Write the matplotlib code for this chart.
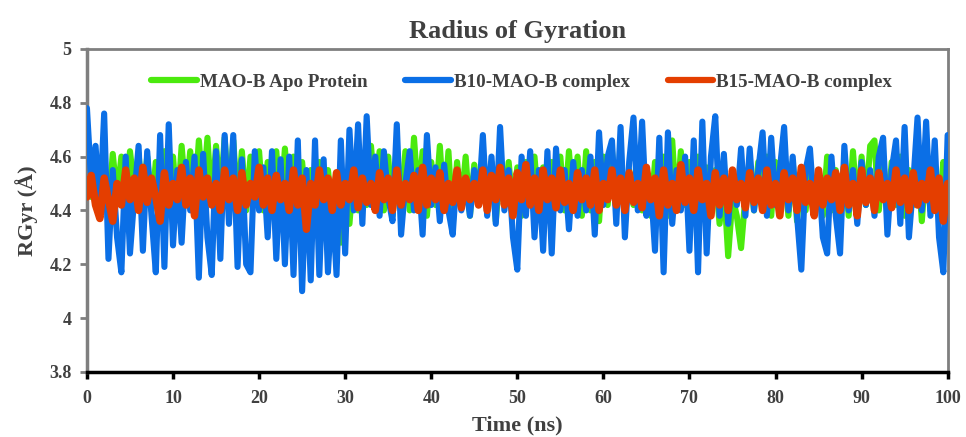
import numpy as np
import matplotlib
matplotlib.use("Agg")
import matplotlib.pyplot as plt

labels = ["MAO-B Apo Protein", "B10-MAO-B complex", "B15-MAO-B complex"]
x_ticks = [0, 10, 20, 30, 40, 50, 60, 70, 80, 90, 100]
y_ticks = [3.8, 4.0, 4.2, 4.4, 4.6, 4.8, 5.0]
y_tick_labels = ["3.8", "4", "4.2", "4.4", "4.6", "4.8", "5"]

apo = [4.55, 4.45, 4.60, 4.42, 4.58, 4.40, 4.61, 4.45, 4.60, 4.42, 4.62, 4.48, 4.61, 4.43, 4.60, 4.40,
       4.58, 4.45, 4.62, 4.42, 4.60, 4.40, 4.64, 4.45, 4.62, 4.42, 4.66, 4.46, 4.67, 4.42, 4.64, 4.45,
       4.67, 4.43, 4.66, 4.42, 4.62, 4.40, 4.60, 4.45, 4.62, 4.40, 4.58, 4.45, 4.62, 4.40, 4.63, 4.43,
       4.60, 4.42, 4.58, 4.40, 4.55, 4.45, 4.58, 4.38, 4.55, 4.40, 4.52, 4.28, 4.48, 4.35, 4.55, 4.40,
       4.60, 4.42, 4.64, 4.45, 4.62, 4.40, 4.60, 4.38, 4.58, 4.42, 4.62, 4.40, 4.67, 4.44, 4.62, 4.38,
       4.58, 4.42, 4.64, 4.40, 4.62, 4.35, 4.58, 4.42, 4.60, 4.38, 4.57, 4.42, 4.60, 4.40, 4.58, 4.36,
       4.55, 4.42, 4.58, 4.40, 4.56, 4.38, 4.58, 4.42, 4.60, 4.40, 4.56, 4.38, 4.58, 4.42, 4.60, 4.40,
       4.62, 4.42, 4.60, 4.38, 4.62, 4.40, 4.58, 4.36, 4.60, 4.42, 4.62, 4.40, 4.58, 4.38, 4.55, 4.42,
       4.58, 4.40, 4.55, 4.38, 4.58, 4.42, 4.60, 4.38, 4.66, 4.40, 4.62, 4.42, 4.58, 4.40, 4.60, 4.38,
       4.56, 4.40, 4.55, 4.35, 4.50, 4.23, 4.45, 4.38, 4.26, 4.45, 4.55, 4.40, 4.58, 4.42, 4.60, 4.38,
       4.58, 4.40, 4.55, 4.38, 4.58, 4.36, 4.55, 4.40, 4.58, 4.42, 4.55, 4.38, 4.60, 4.40, 4.55, 4.42,
       4.58, 4.38, 4.62, 4.40, 4.60, 4.42, 4.64, 4.66, 4.40, 4.60, 4.38, 4.58, 4.42, 4.60, 4.38, 4.55,
       4.42, 4.60, 4.36, 4.58, 4.40, 4.55, 4.38, 4.58, 4.50]

b10 = [4.78, 4.50, 4.64, 4.40, 4.76, 4.22, 4.55, 4.30, 4.17, 4.60, 4.24, 4.45, 4.64, 4.25, 4.62, 4.38,
       4.17, 4.68, 4.19, 4.72, 4.27, 4.55, 4.28, 4.58, 4.40, 4.60, 4.15, 4.61, 4.30, 4.16, 4.62, 4.22,
       4.68, 4.35, 4.68, 4.19, 4.59, 4.20, 4.17, 4.62, 4.40, 4.56, 4.30, 4.62, 4.22, 4.59, 4.20, 4.60,
       4.16, 4.66, 4.10, 4.55, 4.14, 4.66, 4.16, 4.59, 4.17, 4.45, 4.16, 4.66, 4.24, 4.70, 4.40, 4.72,
       4.35, 4.75, 4.42, 4.60, 4.38, 4.62, 4.45, 4.36, 4.72, 4.31, 4.50, 4.62, 4.40, 4.55, 4.31, 4.68,
       4.42, 4.56, 4.36, 4.57, 4.40, 4.31, 4.55, 4.40, 4.50, 4.38, 4.55, 4.42, 4.68, 4.38, 4.60, 4.35,
       4.71, 4.40, 4.55, 4.30, 4.18, 4.60, 4.38, 4.62, 4.30, 4.55, 4.25, 4.62, 4.24, 4.63, 4.40, 4.55,
       4.33, 4.58, 4.38, 4.55, 4.40, 4.60, 4.31, 4.69, 4.42, 4.60, 4.66, 4.35, 4.71, 4.30, 4.58, 4.745,
       4.40, 4.73, 4.38, 4.50, 4.25, 4.67, 4.17, 4.69, 4.35, 4.55, 4.40, 4.60, 4.25, 4.66, 4.17, 4.73,
       4.24, 4.60, 4.75, 4.38, 4.61, 4.35, 4.55, 4.42, 4.63, 4.38, 4.63, 4.40, 4.55, 4.69, 4.38, 4.67,
       4.42, 4.55, 4.71, 4.40, 4.60, 4.38, 4.18, 4.55, 4.63, 4.40, 4.55, 4.30, 4.24, 4.60, 4.38, 4.24,
       4.64, 4.40, 4.55, 4.35, 4.58, 4.42, 4.55, 4.38, 4.60, 4.67, 4.31, 4.55, 4.66, 4.35, 4.71, 4.30,
       4.50, 4.745, 4.40, 4.73, 4.38, 4.66, 4.30, 4.17, 4.68]

b15 = [4.45, 4.53, 4.42, 4.37, 4.52, 4.44, 4.36, 4.50, 4.42, 4.55, 4.44, 4.52, 4.40, 4.56, 4.43, 4.52,
       4.45, 4.36, 4.54, 4.42, 4.50, 4.44, 4.56, 4.42, 4.52, 4.38, 4.55, 4.45, 4.52, 4.42, 4.50, 4.40,
       4.55, 4.44, 4.52, 4.40, 4.54, 4.42, 4.50, 4.45, 4.56, 4.42, 4.52, 4.40, 4.53, 4.44, 4.50, 4.40,
       4.55, 4.42, 4.52, 4.33, 4.50, 4.42, 4.55, 4.44, 4.52, 4.40, 4.54, 4.42, 4.50, 4.44, 4.55, 4.41,
       4.52, 4.43, 4.50, 4.40, 4.54, 4.44, 4.52, 4.40, 4.55, 4.42, 4.50, 4.44, 4.53, 4.40, 4.56, 4.42,
       4.52, 4.44, 4.54, 4.40, 4.50, 4.43, 4.55, 4.41, 4.52, 4.44, 4.50, 4.42, 4.55, 4.40, 4.53, 4.44,
       4.56, 4.42, 4.52, 4.38, 4.54, 4.44, 4.57, 4.42, 4.52, 4.40, 4.55, 4.44, 4.52, 4.41, 4.55, 4.43,
       4.50, 4.40, 4.54, 4.44, 4.52, 4.42, 4.55, 4.40, 4.50, 4.44, 4.55, 4.42, 4.52, 4.40, 4.54, 4.43,
       4.50, 4.41, 4.56, 4.44, 4.52, 4.38, 4.55, 4.42, 4.50, 4.40, 4.57, 4.43, 4.52, 4.40, 4.55, 4.44,
       4.50, 4.38, 4.54, 4.42, 4.52, 4.40, 4.55, 4.44, 4.50, 4.41, 4.54, 4.43, 4.52, 4.40, 4.55, 4.42,
       4.50, 4.38, 4.54, 4.44, 4.52, 4.40, 4.56, 4.43, 4.50, 4.38, 4.55, 4.42, 4.52, 4.44, 4.54, 4.40,
       4.56, 4.42, 4.50, 4.38, 4.55, 4.43, 4.52, 4.40, 4.54, 4.44, 4.50, 4.41, 4.55, 4.43, 4.52, 4.40,
       4.54, 4.42, 4.50, 4.44, 4.55, 4.40, 4.52, 4.36, 4.50]

t_apo = np.linspace(0, 100, len(apo))
t_b10 = np.linspace(0, 100, len(b10))
t_b15 = np.linspace(0, 100, len(b15))

plt.rcParams['font.family'] = ['Liberation Serif', 'DejaVu Serif']

fig = plt.figure(figsize=(9.66, 4.37), dpi=100)
ax = fig.add_axes([0.090, 0.149, 0.891, 0.739])

green = '#4BEA0E'
blue = '#0B6FE6'
red = '#E43E00'

kw = dict(solid_capstyle='round', solid_joinstyle='round')
ax.plot(t_apo, apo, color=green, lw=4.4, label=labels[0], zorder=2, **kw)
ax.plot(t_b10, b10, color=blue, lw=4.4, label=labels[1], zorder=3, **kw)
ax.plot(t_b15, b15, color=red, lw=5.4, label=labels[2], zorder=4, **kw)

ax.set_xlim(0, 100)
ax.set_ylim(3.8, 5.0)
ax.set_xticks(x_ticks)
ax.set_xticklabels([str(v) for v in x_ticks])
ax.set_yticks(y_ticks)
ax.set_yticklabels(y_tick_labels)

txt = '#404040'
for lab in ax.get_xticklabels() + ax.get_yticklabels():
    lab.set_fontsize(13)
    lab.set_fontweight('bold')
    lab.set_color(txt)

ax.spines['left'].set_color('#7f7f7f')
ax.spines['left'].set_linewidth(2.5)
ax.spines['top'].set_color('#7f7f7f')
ax.spines['top'].set_linewidth(2.0)
ax.spines['right'].set_color('#7f7f7f')
ax.spines['right'].set_linewidth(2.0)
ax.spines['bottom'].set_color('black')
ax.spines['bottom'].set_linewidth(2.5)
ax.tick_params(axis='y', direction='out', length=5, width=2, color='#7f7f7f', pad=6)
ax.tick_params(axis='x', direction='out', length=5, width=2.5, color='black', pad=8)

ax.set_title('Radius of Gyration', fontsize=19, fontweight='bold', color=txt, pad=8)
ax.set_xlabel('Time (ns)', fontsize=16, fontweight='bold', color=txt, labelpad=6)
ax.set_ylabel('RGyr (Å)', fontsize=16, fontweight='bold', color=txt, labelpad=8)

leg = ax.legend(loc='center', bbox_to_anchor=(0.505, 0.897), ncol=3, frameon=False,
                handlelength=2.4, handletextpad=0.15, columnspacing=2.0,
                prop={'size': 13.7, 'weight': 'bold'})
for h in leg.get_lines():
    h.set_linewidth(4.5)
for tx in leg.get_texts():
    tx.set_color(txt)

fig.savefig('out.png', dpi=100)
